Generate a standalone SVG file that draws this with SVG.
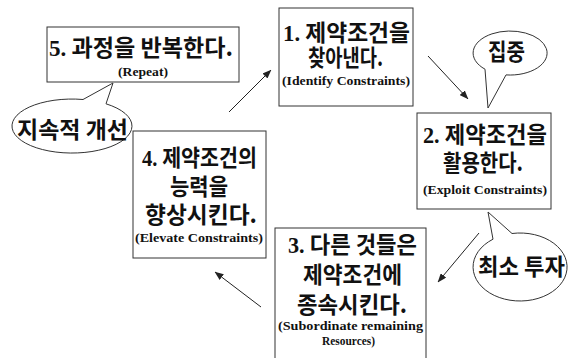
<svg xmlns="http://www.w3.org/2000/svg" width="577" height="358" viewBox="0 0 577 358">
<style>
.box{fill:#fff;stroke:#333;stroke-width:1}
.bub{fill:#fff;stroke:#333;stroke-width:1}
.ko{font-family:"Noto Sans CJK KR","Noto Sans",sans-serif;font-weight:bold;font-size:23px;fill:#111;text-anchor:middle}
.en{font-family:"Liberation Serif","Times New Roman",serif;font-weight:bold;font-size:13px;fill:#111;text-anchor:middle}
.num{font-family:"Liberation Serif","Times New Roman",serif;font-weight:bold}
.conn{stroke:#222;stroke-width:1;fill:none;marker-end:url(#ah)}
</style>
<defs>
<marker id="ah" markerWidth="9" markerHeight="7" refX="8.5" refY="3.5" orient="auto" markerUnits="userSpaceOnUse">
<path d="M0,0 L9,3.5 L0,7 Z" fill="#222"/>
</marker>
</defs>
<rect width="577" height="358" fill="#fff"/>
<g id="connectors">
<line class="conn" x1="229" y1="112" x2="271" y2="70"/>
<line class="conn" x1="428" y1="56" x2="468" y2="99"/>
<line class="conn" x1="479" y1="233" x2="438" y2="282"/>
<line class="conn" x1="261" y1="307" x2="215" y2="272"/>
</g>
<g id="step5">
<rect class="box" x="47" y="27" width="192" height="55"/>
<text class="ko" x="141" y="56" textLength="184" lengthAdjust="spacingAndGlyphs"><tspan class="num">5.</tspan> 과정을 반복한다.</text>
<text class="en" x="143" y="76" textLength="50" lengthAdjust="spacingAndGlyphs">(Repeat)</text>
</g>
<g id="step1">
<rect class="box" x="279" y="8" width="134" height="98"/>
<text class="ko" x="346.5" y="41" textLength="127" lengthAdjust="spacingAndGlyphs"><tspan class="num">1.</tspan> 제약조건을</text>
<text class="ko" x="345.5" y="66" textLength="75" lengthAdjust="spacingAndGlyphs">찾아낸다.</text>
<text class="en" x="346" y="85" textLength="128" lengthAdjust="spacingAndGlyphs">(Identify Constraints)</text>
</g>
<g id="step2">
<rect class="box" x="417" y="113" width="134" height="96"/>
<text class="ko" x="485" y="143" textLength="124" lengthAdjust="spacingAndGlyphs"><tspan class="num">2.</tspan> 제약조건을</text>
<text class="ko" x="483" y="171" textLength="80" lengthAdjust="spacingAndGlyphs">활용한다.</text>
<text class="en" x="485" y="194" textLength="124" lengthAdjust="spacingAndGlyphs">(Exploit Constraints)</text>
</g>
<g id="step3">
<rect class="box" x="275" y="228" width="151" height="140"/>
<text class="ko" x="352.5" y="253" textLength="129" lengthAdjust="spacingAndGlyphs"><tspan class="num">3.</tspan> 다른 것들은</text>
<text class="ko" x="352.5" y="283" textLength="99" lengthAdjust="spacingAndGlyphs">제약조건에</text>
<text class="ko" x="352" y="313" textLength="110" lengthAdjust="spacingAndGlyphs">종속시킨다.</text>
<text class="en" x="350.5" y="330" textLength="145" lengthAdjust="spacingAndGlyphs">(Subordinate remaining</text>
<text class="en" x="348.5" y="345" textLength="53" lengthAdjust="spacingAndGlyphs">Resources)</text>
</g>
<g id="step4">
<rect class="box" x="133" y="131" width="133" height="127"/>
<text class="ko" x="199.5" y="166" textLength="115" lengthAdjust="spacingAndGlyphs"><tspan class="num">4.</tspan> 제약조건의</text>
<text class="ko" x="199" y="195" textLength="58" lengthAdjust="spacingAndGlyphs">능력을</text>
<text class="ko" x="201" y="223" textLength="112" lengthAdjust="spacingAndGlyphs">향상시킨다.</text>
<text class="en" x="199" y="242" textLength="128" lengthAdjust="spacingAndGlyphs">(Elevate Constraints)</text>
</g>
<g id="bubble-focus">
<path class="bub" d="M506,74.9 L488,108 L485,69.2 A37 22 0 1 1 506,74.9 Z"/>
<text class="ko" x="506.5" y="60" textLength="37" lengthAdjust="spacingAndGlyphs">집중</text>
</g>
<g id="bubble-improve">
<path class="bub" d="M83,99.5 L113,83 L106,103.8 A60 27 0 1 1 83,99.5 Z"/>
<text class="ko" x="72.5" y="138" textLength="111" lengthAdjust="spacingAndGlyphs">지속적 개선</text>
</g>
<g id="bubble-invest">
<path class="bub" d="M493,239.2 L488,212 L512,233.5 A47 34 0 1 1 493,239.2 Z"/>
<text class="ko" x="521.5" y="275" textLength="87" lengthAdjust="spacingAndGlyphs">최소 투자</text>
</g>
</svg>
